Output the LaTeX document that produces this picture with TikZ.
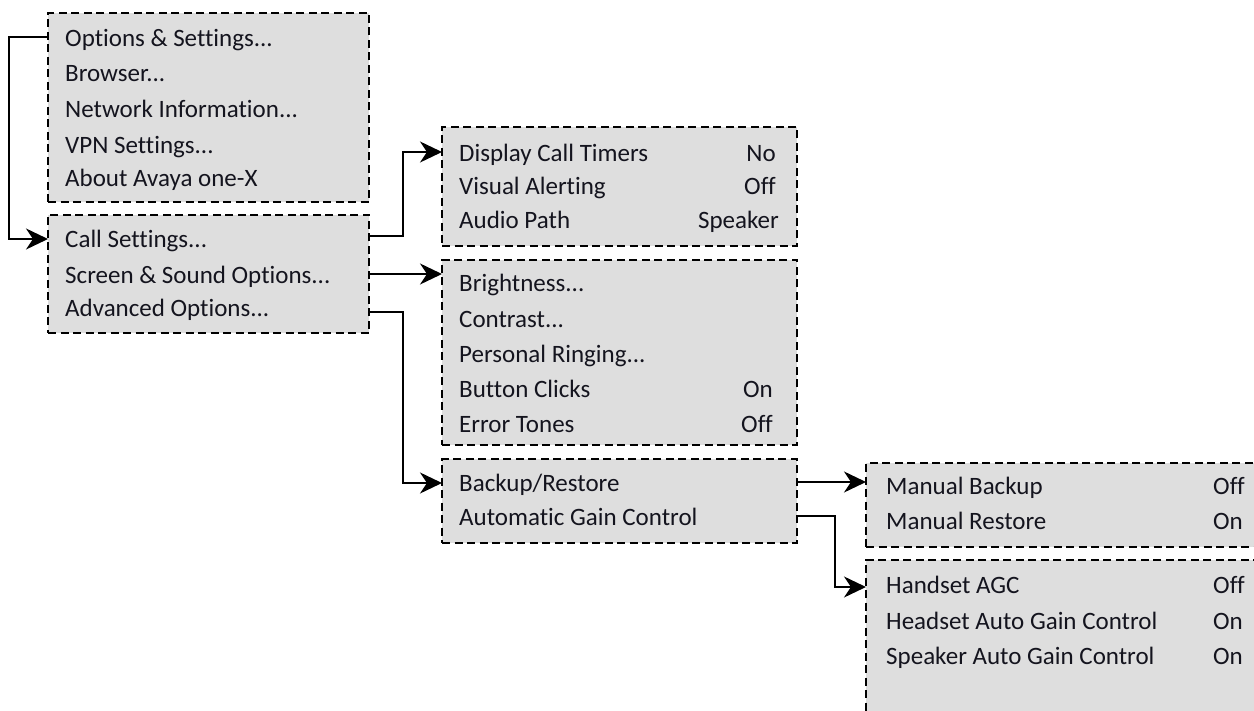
\documentclass[tikz,border=0pt]{standalone}
\usepackage{fontspec}
\setmainfont{Carlito}[Ligatures=NoCommon]
\usetikzlibrary{arrows.meta}
\definecolor{boxfill}{RGB}{222,222,222}
\definecolor{txt}{RGB}{20,20,30}
\begin{document}
\begin{tikzpicture}[x=1pt,y=-1pt,
  menubox/.style={draw=black, fill=boxfill, dash pattern=on 8pt off 4.5pt, line width=1.5pt, anchor=north west, inner sep=0pt, outer sep=0pt},
  item/.style={anchor=mid west, inner sep=0pt, text=txt, font=\fontsize{25}{29}\selectfont},
  val/.style={anchor=mid east, inner sep=0pt, text=txt, font=\fontsize{25}{29}\selectfont},
  link/.style={draw=black, line width=2pt, -{Stealth[length=22pt,width=21pt,inset=7pt]}}]
\clip (0,0) rectangle (1254,711);
\useasboundingbox (0,0) rectangle (1254,711);
% boxes
\node[menubox, minimum width=321pt, minimum height=189pt] (b1) at (48,13) {};
\node[menubox, minimum width=321pt, minimum height=118pt] (b2) at (48,215) {};
\node[menubox, minimum width=355pt, minimum height=119pt] (b3) at (442,127) {};
\node[menubox, minimum width=355pt, minimum height=185pt] (b4) at (442,260) {};
\node[menubox, minimum width=355pt, minimum height=84pt] (b5) at (442,459) {};
\node[menubox, minimum width=420pt, minimum height=84pt] (b6) at (866,463) {};
\node[menubox, minimum width=420pt, minimum height=180pt] (b7) at (866,560) {};
% box 1
\node[item] (t11) at (65,44) {Options \& Settings...};
\node[item] (t12) at (65,79) {Browser...};
\node[item] (t13) at (65,115) {Network Information...};
\node[item] (t14) at (65,151) {VPN Settings...};
\node[item] (t15) at (65,184) {About Avaya one-X};
% box 2
\node[item] (t21) at (65,245) {Call Settings...};
\node[item] (t22) at (65,281) {Screen \& Sound Options...};
\node[item] (t23) at (65,314) {Advanced Options...};
% box 3
\node[item] (t31) at (459,159) {Display Call Timers};
\node[item] (t32) at (459,192) {Visual Alerting};
\node[item] (t33) at (459,226) {Audio Path};
\node[val] (v31) at (776,159) {No};
\node[val] (v32) at (776,192) {Off};
\node[val] (v33) at (779,226) {Speaker};
% box 4
\node[item] (t41) at (459,289) {Brightness...};
\node[item] (t42) at (459,325) {Contrast...};
\node[item] (t43) at (459,360) {Personal Ringing...};
\node[item] (t44) at (459,395) {Button Clicks};
\node[item] (t45) at (459,430) {Error Tones};
\node[val] (v44) at (773,395) {On};
\node[val] (v45) at (773,430) {Off};
% box 5
\node[item] (t51) at (459,489) {Backup/Restore};
\node[item] (t52) at (459,523) {Automatic Gain Control};
% box 6
\node[item] (t61) at (886,492) {Manual Backup};
\node[item] (t62) at (886,527) {Manual Restore};
\node[val] (v61) at (1245,492) {Off};
\node[val] (v62) at (1243,527) {On};
% box 7
\node[item] (t71) at (886,591) {Handset AGC};
\node[item] (t72) at (886,627) {Headset Auto Gain Control};
\node[item] (t73) at (886,662) {Speaker Auto Gain Control};
\node[val] (v71) at (1245,591) {Off};
\node[val] (v72) at (1243,627) {On};
\node[val] (v73) at (1243,662) {On};
% connectors
\draw[link] ([yshift=-24pt]b1.north west) -- ++(-39,0) |- ([yshift=-24pt]b2.north west);
\draw[link] ([yshift=-21pt]b2.north east) -- ++(34,0) |- ([yshift=-25pt]b3.north west);
\draw[link] ([yshift=-59pt]b2.north east) coordinate (s24) -- (s24 -| b4.west);
\draw[link] ([yshift=-97pt]b2.north east) -- ++(34,0) |- ([yshift=-24pt]b5.north west);
\draw[link] ([yshift=-23pt]b5.north east) coordinate (s56) -- (s56 -| b6.west);
\draw[link] ([yshift=-57pt]b5.north east) -- ++(38,0) |- ([yshift=-27pt]b7.north west);
\end{tikzpicture}
\end{document}
